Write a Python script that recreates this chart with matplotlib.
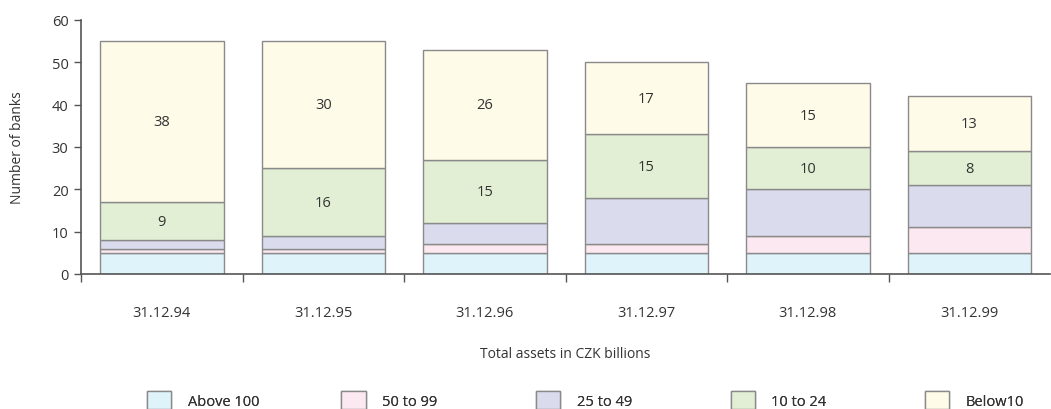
import matplotlib
matplotlib.use("Agg")
import matplotlib.pyplot as plt
import numpy as np

categories = ["31.12.94", "31.12.95", "31.12.96", "31.12.97", "31.12.98", "31.12.99"]
series_names = ["Above 100", "50 to 99", "25 to 49", "10 to 24", "Below10"]
above_100 = [5, 5, 5, 5, 5, 5]
b50_99 = [1, 1, 2, 2, 4, 6]
b25_49 = [2, 3, 5, 11, 11, 10]
b10_24 = [9, 16, 15, 15, 10, 8]
below_10 = [38, 30, 26, 17, 15, 13]
series = [above_100, b50_99, b25_49, b10_24, below_10]
labelled = [False, False, False, True, True]
colors = ["#dff3fa", "#fce8f1", "#dadbed", "#e2efd4", "#fefbe9"]
edge = "#8a8a8a"
yticks = [0, 10, 20, 30, 40, 50, 60]

plt.rcParams['font.family'] = ['Open Sans', 'DejaVu Sans']
text_color = "#333333"

fig = plt.figure(figsize=(10.51, 4.10), dpi=100)
ax = fig.add_axes([0.0771, 0.3293, 0.922, 0.6195])

x = np.arange(len(categories))
bottom = np.zeros(len(categories))
handles = []
for name, vals, col, lab in zip(series_names, series, colors, labelled):
    vals = np.array(vals, dtype=float)
    b = ax.bar(x, vals, bottom=bottom, width=0.765, color=col, edgecolor=edge, linewidth=1.0, label=name)
    handles.append(b)
    if lab:
        for xi, v, bt in zip(x, vals, bottom):
            ax.text(xi, bt + v / 2, f"{int(v)}", ha="center", va="center", fontsize=10.5, color=text_color)
    bottom += vals

ax.set_xlim(-0.5, len(categories) - 0.5)
ax.set_ylim(0, 60)
ax.set_yticks(yticks)
ax.set_yticklabels([str(t) for t in yticks], fontsize=10.5, color=text_color)
ax.set_xticks(x)
ax.set_xticklabels(categories, fontsize=10.5, color=text_color)
ax.tick_params(axis="x", which="major", length=0, pad=22)
ax.set_xticks(np.arange(-0.5, len(categories) - 0.5, 1.0), minor=True)
ax.tick_params(axis="x", which="minor", length=6, width=1, color="#555555", direction="out")
ax.tick_params(axis="y", length=5, width=1, color="#555555", direction="out", pad=4)
for s in ["top", "right"]:
    ax.spines[s].set_visible(False)
for s in ["left", "bottom"]:
    ax.spines[s].set_color("#555555")
    ax.spines[s].set_linewidth(1.2)

ax.set_ylabel("Number of banks", fontsize=10, color=text_color, labelpad=19)
ax.set_xlabel("Total assets in CZK billions", fontsize=10, color=text_color, labelpad=19)

leg_x = [0.1399, 0.3249, 0.510, 0.6951, 0.880]
for h, name, lx in zip(handles, series_names, leg_x):
    lg = fig.legend([h], [name], loc="center left", bbox_to_anchor=(lx, 0.022), frameon=False,
                    fontsize=10.5, handlelength=1.65, handleheight=1.6, handletextpad=1.15,
                    borderaxespad=0, borderpad=0)
    for t in lg.get_texts():
        t.set_color(text_color)
    fig.add_artist(lg)

fig.savefig("out.png", dpi=100)
